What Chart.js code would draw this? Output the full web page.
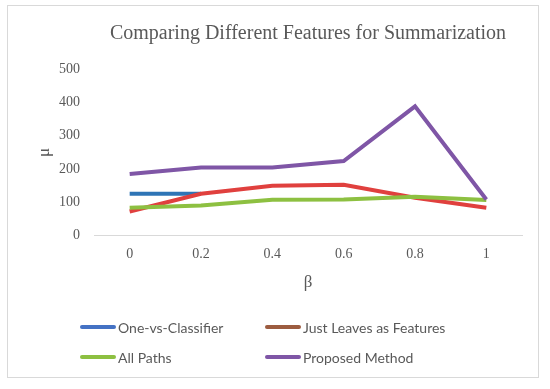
<!DOCTYPE html>
<html>
<head>
<meta charset="utf-8">
<script src="https://cdn.jsdelivr.net/npm/chart.js@4.4.1/dist/chart.umd.min.js"></script>
<style>
	body { margin: 0; background: #fff; }
	#frame {
		position: absolute; left: 7px; top: 5px;
		width: 530px; height: 371px;
		border: 1px solid #d9d9d9;
	}
	#chart { position: absolute; left: 0; top: 0; }
	#legend {
		position: absolute; left: 72px; top: 312px;
		display: grid; grid-template-columns: 185px 220px; row-gap: 12px;
		font-family: Lato, 'Liberation Sans', sans-serif; font-size: 14px; color: #595959;
	}
	.item { display: flex; align-items: center; height: 18px; }
	.swatch { width: 36px; height: 4px; border-radius: 2px; margin-right: 2px; }
</style>
</head>
<body>
<div id="frame">
	<canvas id="chart" width="530" height="371"></canvas>
	<div id="legend"></div>
</div>
<script>
const betaLabels = ['0', '0.2', '0.4', '0.6', '0.8', '1'];
const seriesNames = ['One-vs-Classifier', 'Just Leaves as Features', 'All Paths', 'Proposed Method'];
const oneVsClassifier = [126, 126, null, null, null, null];
const justLeaves = [73, 126, 150, 153, 114, 84];
const allPaths = [84, 91, 108, 109, 117, 107];
const proposedMethod = [185, 205, 205, 224, 388, 109];

const lineColors = ['#2e75b6', '#e0403e', '#8dc041', '#7f56a6'];
const legendColors = ['#4472c4', '#9c5c40', '#8dc041', '#7f56a6'];
const allSeries = [oneVsClassifier, justLeaves, allPaths, proposedMethod];

const serif = "'Liberation Serif', 'Times New Roman', serif";
const gray = '#595959';

new Chart(document.getElementById('chart'), {
	type: 'line',
	data: {
		labels: betaLabels,
		datasets: allSeries.map((values, i) => ({
			label: seriesNames[i],
			data: values,
			borderColor: lineColors[i],
			borderWidth: 4,
			pointRadius: 0,
			tension: 0,
			spanGaps: false,
			order: allSeries.length - i,
		})),
	},
	options: {
		responsive: false,
		animation: false,
		layout: { padding: { left: 26, right: 16, bottom: 84 } },
		plugins: {
			legend: { display: false },
			tooltip: { enabled: false },
			title: {
				display: true,
				fullSize: false,
				text: 'Comparing Different Features for Summarization',
				color: gray,
				font: { family: serif, size: 20, weight: 'normal' },
				padding: { top: 16, bottom: 23 },
			},
		},
		scales: {
			x: {
				offset: true,
				grid: { display: false, drawTicks: false },
				border: { display: true, color: '#d9d9d9', width: 1 },
				ticks: { color: gray, font: { family: serif, size: 14 }, padding: 10 },
				title: { display: true, text: 'β', color: gray, font: { family: serif, size: 17 }, padding: { top: 0, bottom: 0 } },
			},
			y: {
				min: 0,
				max: 500,
				grid: { display: false, drawTicks: false },
				border: { display: false },
				ticks: { stepSize: 100, color: gray, font: { family: serif, size: 14 }, padding: 14 },
				title: { display: true, text: 'μ', color: gray, font: { family: serif, size: 17 }, padding: 0 },
				afterFit(scale) { scale.width = 60; },
			},
		},
	},
});

const legend = document.getElementById('legend');
seriesNames.forEach((name, i) => {
	const item = document.createElement('div');
	item.className = 'item';
	item.innerHTML = `<span class="swatch" style="background:${legendColors[i]}"></span><span>${name}</span>`;
	legend.appendChild(item);
});
</script>
</body>
</html>
